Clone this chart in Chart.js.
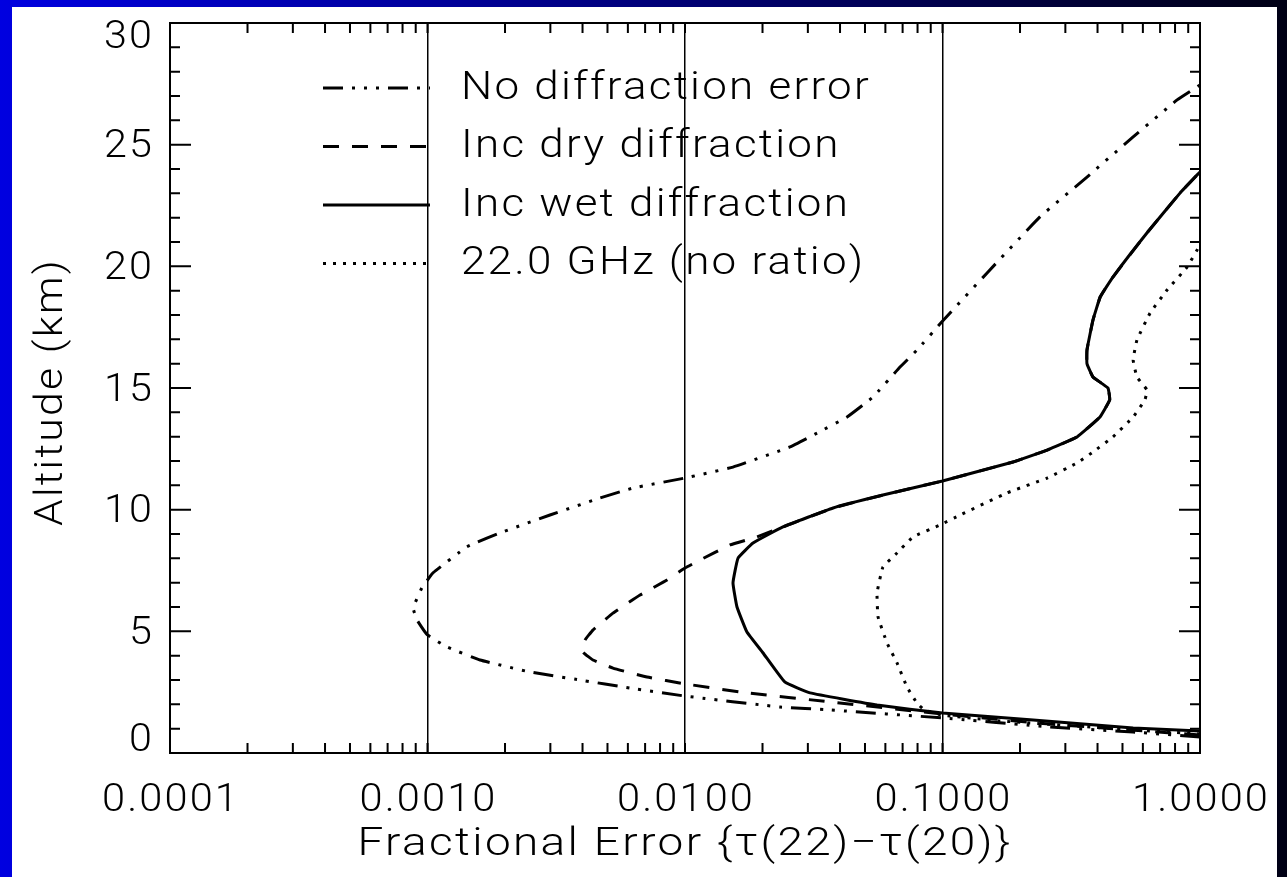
<!DOCTYPE html>
<html lang="en">
<head>
<meta charset="UTF-8">
<title>Fractional Error vs Altitude</title>
<script src="https://cdn.jsdelivr.net/npm/chart.js"></script>
<style>
  body { margin: 0; background: #000; }
  canvas { display: block; }
</style>
</head>
<body>
<canvas id="errChart" width="1287" height="877"></canvas>
<script>
// Fractional error (x, log) against altitude in km (y)
const noDiffErr = [1.0, 0.55, 0.261, 0.1, 0.0366, 0.0234, 0.01, 0.00611, 0.00391, 0.0025, 0.0016, 0.00119, 0.001, 0.00091, 0.00088, 0.00095, 0.001, 0.00105, 0.00142, 0.00191, 0.00299, 0.00468, 0.00628, 0.01, 0.01536, 0.0256, 0.0326, 0.0426, 0.0537, 0.0684, 0.0796, 0.0993, 0.149, 0.239, 0.364, 0.55, 0.815, 1.0];
const noDiffAlt = [0.66, 0.86, 1.07, 1.44, 1.77, 1.89, 2.34, 2.67, 3.0, 3.33, 3.82, 4.36, 4.85, 5.47, 5.96, 6.78, 7.11, 7.40, 8.47, 9.04, 9.78, 10.48, 10.89, 11.30, 11.75, 12.58, 13.15, 13.81, 14.63, 15.86, 16.56, 17.71, 19.73, 22.03, 23.67, 25.32, 26.84, 27.45];

const dryErr = [1.0, 0.261, 0.1, 0.0366, 0.0174, 0.01, 0.00712, 0.00525, 0.00439, 0.00402, 0.00409, 0.00439, 0.00525, 0.00669, 0.00851, 0.01, 0.01144, 0.01496, 0.019, 0.024, 0.0376, 0.0587, 0.1, 0.188, 0.255, 0.333, 0.409, 0.446, 0.439, 0.384, 0.364, 0.364, 0.384, 0.41, 0.459, 0.622, 0.836, 1.0];
const dryAlt = [0.74, 1.19, 1.60, 2.10, 2.47, 2.84, 3.12, 3.49, 3.82, 4.15, 4.64, 5.05, 5.75, 6.49, 7.11, 7.60, 7.93, 8.55, 8.88, 9.29, 10.07, 10.60, 11.18, 11.96, 12.45, 12.99, 13.81, 14.51, 15.00, 15.45, 16.00, 16.56, 17.79, 18.75, 19.56, 21.37, 23.01, 23.88];

const wetErr = [1.0, 0.55, 0.225, 0.1, 0.0557, 0.0306, 0.0244, 0.0201, 0.0174, 0.01592, 0.01536, 0.01607, 0.01837, 0.024, 0.0376, 0.0587, 0.1, 0.188, 0.255, 0.333, 0.409, 0.446, 0.439, 0.384, 0.364, 0.364, 0.384, 0.41, 0.459, 0.622, 0.836, 1.0];
const wetAlt = [0.90, 1.03, 1.36, 1.64, 1.97, 2.47, 2.92, 4.11, 4.97, 6.00, 6.99, 8.01, 8.63, 9.29, 10.07, 10.60, 11.18, 11.96, 12.45, 12.99, 13.81, 14.51, 15.00, 15.45, 16.00, 16.56, 17.79, 18.75, 19.56, 21.37, 23.01, 23.88];

const ghzErr = [1.0, 0.55, 0.167, 0.1, 0.085, 0.0796, 0.0728, 0.0666, 0.0609, 0.0562, 0.0557, 0.0587, 0.0666, 0.0768, 0.0978, 0.117, 0.178, 0.255, 0.333, 0.384, 0.459, 0.55, 0.611, 0.622, 0.569, 0.55, 0.569, 0.64, 0.745, 0.891, 1.0];
const ghzAlt = [0.78, 0.95, 1.32, 1.56, 1.77, 2.05, 2.71, 3.70, 4.52, 5.59, 6.58, 7.64, 8.22, 8.88, 9.37, 9.78, 10.69, 11.30, 11.92, 12.37, 12.99, 13.81, 14.51, 14.92, 15.45, 16.15, 16.97, 18.08, 19.03, 19.97, 20.88];

const seriesNames = ['No diffraction error', 'Inc dry diffraction', 'Inc wet diffraction', '22.0 GHz (no ratio)'];

// axis labels
const xLabelValues = [0.0001, 0.001, 0.01, 0.1, 1];
const xTickLabels = ['0.0001', '0.0010', '0.0100', '0.1000', '1.0000'];
const yLabelValues = [0, 5, 10, 15, 20, 25, 30];
const yTickLabels = ['0', '5', '10', '15', '20', '25', '30'];
const xTitle = 'Fractional Error {\u03c4(22)\u2212\u03c4(20)}';
const yTitle = 'Altitude (km)';

const labelFont = '300 39px Roboto, "DejaVu Sans", sans-serif';

function pairs(xs, ys) {
    return xs.map((x, i) => ({ x: x, y: ys[i] }));
}

function isInnerDecade(v) {
    const lg = Math.log10(v);
    return Math.abs(lg - Math.round(lg)) < 1e-6 && lg > -3.5 && lg < -0.5;
}

// the vector font of the original is wide, so text is stretched sideways
function stretchFor(ctx, sample, width) {
    return width / ctx.measureText(sample).width;
}

function wideText(ctx, str, x, y, align, sx) {
    ctx.save();
    ctx.translate(x, y);
    ctx.scale(sx, 1);
    ctx.textAlign = align;
    ctx.fillText(str, 0, 0);
    ctx.restore();
}

// draws the blue slide background, the box, inward ticks, labels and legend
const idlDecor = {
    id: 'idlDecor',
    beforeDraw(chart) {
        const ctx = chart.ctx;
        const g = ctx.createLinearGradient(0, 0, chart.width, 0);
        g.addColorStop(0, '#0000e0');
        g.addColorStop(1, '#000014');
        ctx.save();
        ctx.fillStyle = g;
        ctx.fillRect(0, 0, chart.width, chart.height);
        ctx.fillStyle = '#ffffff';
        ctx.fillRect(12, 7, 1265, 870);
        ctx.restore();
    },
    afterDraw(chart) {
        const ctx = chart.ctx;
        const a = chart.chartArea;
        const xs = chart.scales.x;
        const ys = chart.scales.y;

        ctx.save();
        ctx.strokeStyle = '#000';
        ctx.lineWidth = 2;
        ctx.strokeRect(a.left, a.top, a.right - a.left, a.bottom - a.top);

        // inward ticks
        ctx.beginPath();
        xs.ticks.forEach(t => {
            const px = xs.getPixelForValue(t.value);
            ctx.moveTo(px, a.bottom); ctx.lineTo(px, a.bottom - 10);
            ctx.moveTo(px, a.top); ctx.lineTo(px, a.top + 10);
        });
        ys.ticks.forEach(t => {
            const py = ys.getPixelForValue(t.value);
            const len = t.value % 5 === 0 ? 21 : 10;
            ctx.moveTo(a.left, py); ctx.lineTo(a.left + len, py);
            ctx.moveTo(a.right, py); ctx.lineTo(a.right - len, py);
        });
        ctx.stroke();

        ctx.fillStyle = '#000';
        ctx.font = labelFont;
        ctx.letterSpacing = '2px';
        ctx.textBaseline = 'middle';

        // tick labels
        const sxTick = stretchFor(ctx, '0.0001', 138);
        xLabelValues.forEach((v, i) => {
            wideText(ctx, xTickLabels[i], xs.getPixelForValue(v) + 1, a.bottom + 48, 'center', sxTick);
        });
        const syTick = stretchFor(ctx, '30', 50);
        yLabelValues.forEach((v, i) => {
            let py = ys.getPixelForValue(v) + 3;
            py = Math.min(Math.max(py, a.top + 15), a.bottom - 12);
            wideText(ctx, yTickLabels[i], a.left - 16, py, 'right', syTick);
        });

        // axis titles
        wideText(ctx, xTitle, 685, a.bottom + 92, 'center', stretchFor(ctx, xTitle, 655));
        ctx.save();
        ctx.translate(52, 392);
        ctx.rotate(-Math.PI / 2);
        wideText(ctx, yTitle, 0, 0, 'center', stretchFor(ctx, yTitle, 268));
        ctx.restore();

        // legend
        const sxLeg = stretchFor(ctx, seriesNames[0], 410);
        chart.data.datasets.forEach((ds, i) => {
            const ly = 88 + i * 58.5;
            ctx.save();
            ctx.lineWidth = ds.borderWidth;
            ctx.setLineDash(ds.borderDash);
            ctx.beginPath();
            ctx.moveTo(323, ly);
            ctx.lineTo(430, ly);
            ctx.stroke();
            ctx.restore();
            wideText(ctx, ds.label, 461, ly + 1, 'left', sxLeg);
        });
        ctx.letterSpacing = '0px';
        ctx.restore();
    }
};

const ctx = document.getElementById('errChart').getContext('2d');
new Chart(ctx, {
    type: 'scatter',
    data: {
        datasets: [
            { label: seriesNames[0], data: pairs(noDiffErr, noDiffAlt), borderDash: [20, 9, 3, 9, 3, 9, 3, 9] },
            { label: seriesNames[1], data: pairs(dryErr, dryAlt), borderDash: [16, 13] },
            { label: seriesNames[2], data: pairs(wetErr, wetAlt), borderDash: [] },
            { label: seriesNames[3], data: pairs(ghzErr, ghzAlt), borderDash: [3, 7] }
        ].map(d => Object.assign(d, {
            showLine: true,
            pointRadius: 0,
            borderWidth: 3,
            borderColor: '#000',
            backgroundColor: '#000',
            tension: 0.1
        }))
    },
    options: {
        responsive: false,
        animation: false,
        events: [],
        layout: { padding: { left: 170, top: 23, right: 87, bottom: 124 } },
        plugins: { legend: { display: false }, tooltip: { enabled: false } },
        scales: {
            x: {
                type: 'logarithmic',
                min: 0.0001,
                max: 1,
                afterBuildTicks: scale => {
                    const t = [];
                    for (let d = -4; d < 0; d++) {
                        for (let m = 1; m <= 9; m++) t.push({ value: m * Math.pow(10, d) });
                    }
                    t.push({ value: 1 });
                    scale.ticks = t;
                },
                ticks: { display: false },
                grid: {
                    drawTicks: false,
                    lineWidth: 1.5,
                    color: c => (c.tick && isInnerDecade(c.tick.value)) ? '#000' : 'rgba(0,0,0,0)'
                },
                border: { display: false }
            },
            y: {
                type: 'linear',
                min: 0,
                max: 30,
                afterBuildTicks: scale => {
                    const t = [];
                    for (let v = 0; v <= 30; v++) t.push({ value: v });
                    scale.ticks = t;
                },
                ticks: { display: false },
                grid: { display: false, drawTicks: false },
                border: { display: false }
            }
        }
    },
    plugins: [idlDecor]
});
</script>
</body>
</html>
